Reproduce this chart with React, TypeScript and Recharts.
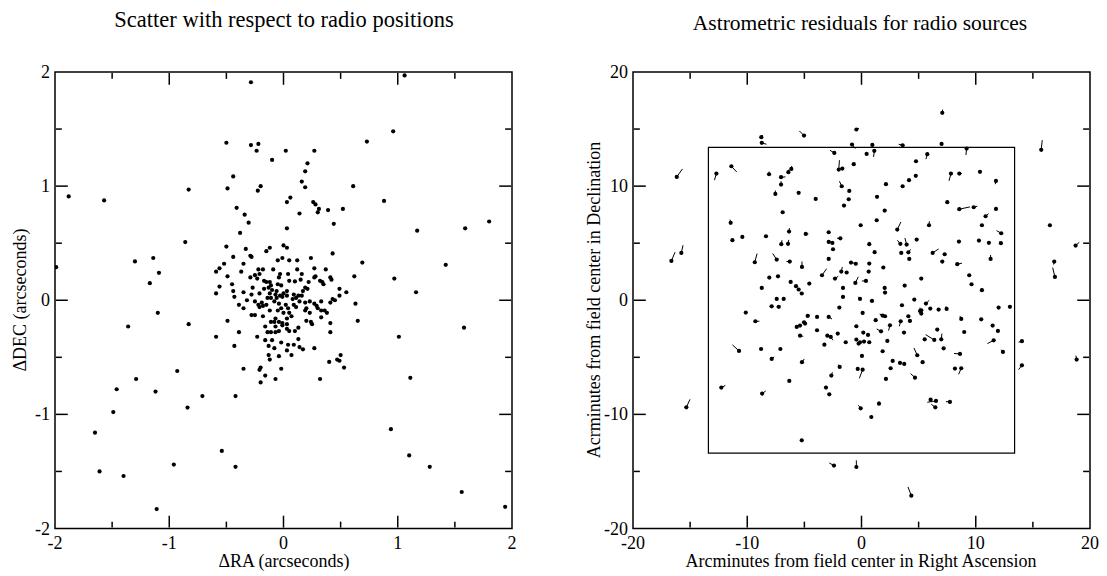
import React from "react";
import {
  ScatterChart,
  Scatter,
  XAxis,
  YAxis,
  ReferenceLine,
  ReferenceArea,
} from "recharts";

const FONT = '"Liberation Serif", "Times New Roman", serif';

// left panel: offsets (ΔRA, ΔDEC) in arcseconds
const radioScatter: [number, number][] = [
  [-0.38, 0.59], [0.03, 0.63], [-0.5, 0.47], [-0.33, 0.45], [-0.12, 0.46], [-0.15, 0.43],
  [0.0, 0.48], [0.03, 0.46], [-0.44, 0.38], [-0.29, 0.39], [-0.28, 0.38], [-0.05, 0.35],
  [-0.01, 0.37], [-0.52, 0.32], [-0.35, 0.32], [-0.56, 0.28], [-0.59, 0.25], [-0.37, 0.25],
  [-0.22, 0.27], [-0.18, 0.27], [-0.21, 0.23], [-0.09, 0.27], [-0.03, 0.23], [-0.04, 0.2],
  [0.04, 0.23], [-0.49, 0.21], [-0.29, 0.2], [-0.25, 0.22], [-0.23, 0.19], [-0.17, 0.17],
  [-0.15, 0.16], [-0.12, 0.16], [-0.05, 0.14], [-0.02, 0.13], [-0.11, 0.13], [0.05, 0.17],
  [-0.45, 0.14], [-0.27, 0.11], [-0.17, 0.1], [-0.13, 0.11], [-0.1, 0.09], [-0.06, 0.08],
  [0.03, 0.08], [-0.56, 0.12], [-0.44, 0.08], [-0.59, 0.06], [-0.35, 0.07], [-0.21, 0.06],
  [-0.12, 0.06], [-0.07, 0.05], [-0.03, 0.04], [0.0, 0.06], [0.03, 0.04], [-0.28, 0.05],
  [-0.14, 0.02], [-0.11, 0.02], [-0.06, 0.02], [-0.01, 0.03], [-0.43, 0.03], [-0.32, 0.0],
  [-0.25, -0.01], [-0.19, -0.02], [-0.22, -0.04], [-0.18, -0.05], [-0.15, -0.04], [-0.08, -0.01],
  [-0.04, -0.03], [0.02, -0.04], [-0.39, -0.04], [-0.35, -0.07], [-0.21, -0.06], [-0.12, -0.09],
  [-0.05, -0.09], [0.0, -0.11], [-0.02, -0.07], [0.04, -0.07], [-0.28, -0.13], [-0.25, -0.13],
  [-0.18, -0.14], [-0.11, -0.19], [-0.08, -0.19], [-0.04, -0.19], [-0.01, -0.2], [0.03, -0.21],
  [-0.07, -0.16], [0.03, -0.16], [-0.49, -0.18], [-0.16, -0.23], [-0.07, -0.23], [-0.14, -0.28],
  [-0.11, -0.28], [-0.07, -0.28], [-0.04, -0.27], [-0.01, -0.22], [0.03, -0.25], [-0.39, -0.28],
  [-0.23, -0.32], [-0.59, -0.32], [-0.16, -0.35], [-0.1, -0.35], [-0.02, -0.37], [-0.43, -0.4],
  [-0.13, -0.4], [-0.08, -0.42], [0.04, -0.39], [0.03, -0.44], [-0.13, -0.48], [-0.04, -0.49],
  [-0.12, -0.52], [-0.35, -0.6], [-0.2, -0.59], [-0.21, -0.61], [-0.02, -0.6], [-0.16, -0.66],
  [-0.07, -0.69], [-0.2, -0.72],
  [0.44, 0.67], [0.05, 0.35], [0.12, 0.35], [0.24, 0.37], [0.43, 0.41], [0.69, 0.33],
  [0.12, 0.27], [0.27, 0.28], [0.37, 0.27], [0.16, 0.23], [0.15, 0.18], [0.28, 0.21],
  [0.27, 0.2], [0.41, 0.2], [0.42, 0.18], [0.62, 0.21], [0.1, 0.165], [0.22, 0.16],
  [0.32, 0.17], [0.34, 0.16], [0.35, 0.14], [0.19, 0.11], [0.17, 0.08], [0.21, 0.1],
  [0.49, 0.1], [0.55, 0.07], [0.49, 0.04], [0.09, 0.05], [0.13, 0.04], [0.16, 0.04],
  [0.08, 0.01], [0.11, 0.02], [0.14, -0.01], [0.19, -0.02], [0.23, -0.01], [0.27, -0.03],
  [0.33, -0.01], [0.41, -0.02], [0.43, 0.01], [0.45, 0.0], [0.63, -0.03], [0.09, -0.04],
  [0.11, -0.06], [0.19, -0.09], [0.2, -0.07], [0.23, -0.11], [0.29, -0.05], [0.3, -0.07],
  [0.33, -0.09], [0.36, -0.09], [0.38, -0.11], [0.33, -0.15], [0.05, -0.11], [0.07, -0.14],
  [0.2, -0.18], [0.25, -0.21], [0.24, -0.19], [0.41, -0.2], [0.65, -0.18], [0.05, -0.27],
  [0.1, -0.27], [0.13, -0.24], [0.41, -0.28], [0.13, -0.34], [0.09, -0.39], [0.14, -0.41],
  [0.17, -0.43], [0.27, -0.42], [0.07, -0.48], [0.4, -0.54], [0.47, -0.52], [0.5, -0.48],
  [0.49, -0.53], [0.53, -0.59], [0.32, -0.69],
  [1.06, 1.97], [0.96, 1.48], [0.73, 1.39], [0.02, 1.31], [0.27, 1.31], [0.21, 1.2],
  [0.19, 1.13], [0.16, 1.04], [0.19, 0.99], [0.61, 1.0], [0.88, 0.87], [0.03, 0.86],
  [0.06, 0.9], [0.14, 0.76], [0.26, 0.86], [0.28, 0.84], [0.31, 0.8], [0.3, 0.77],
  [0.39, 0.79], [0.52, 0.8], [1.17, 0.61], [1.59, 0.63], [1.8, 0.69], [1.42, 0.31],
  [0.97, 0.19], [1.16, 0.07],
  [1.01, -0.32], [1.58, -0.24], [1.11, -0.68], [0.94, -1.13], [1.1, -1.36], [1.28, -1.46],
  [1.56, -1.68], [1.94, -1.81],
  [-1.1, -0.11], [-1.36, -0.23], [-0.83, -0.21], [-0.93, -0.62], [-1.29, -0.69], [-1.46, -0.78],
  [-1.12, -0.8], [-0.71, -0.84], [-0.42, -0.84], [-0.84, -0.94], [-1.49, -0.98], [-1.65, -1.16],
  [-0.54, -1.32], [-0.96, -1.44], [-0.42, -1.46], [-1.61, -1.5], [-1.4, -1.54], [-1.11, -1.83],
  [-1.99, 0.29], [-1.88, 0.91], [-1.57, 0.875], [-1.3, 0.34], [-1.14, 0.37], [-1.09, 0.24],
  [-1.17, 0.15], [-0.83, 0.97], [-0.86, 0.51], [-0.285, 1.91], [-0.5, 1.38], [-0.285, 1.36],
  [-0.22, 1.37], [-0.235, 1.31], [-0.1, 1.23], [-0.44, 1.085], [-0.49, 0.98], [-0.2, 1.0],
  [-0.225, 0.96], [-0.41, 0.81], [-0.34, 0.75], [-0.305, 0.68],
];

// right panel: source position (arcmin) and residual vector (dx, dy, scaled)
const residualVectors: [number, number, number, number][] = [
  [-16.17, 10.81, 0.5, 0.7], [-12.7, 11.1, -0.17, -0.58], [-11.39, 11.74, 0.47, -0.5],
  [-16.64, 3.45, 0.32, 0.76], [-15.77, 4.15, 0.15, 0.67], [-8.77, 14.29, 0.12, 0.18],
  [-8.73, 13.79, 0.41, -0.12], [-5.03, 14.43, -0.41, 0.41], [-0.45, 14.96, 0.23, 0.12],
  [-2.38, 12.91, -0.38, 0.23], [-1.99, 11.45, 0.06, 0.82], [-1.68, 11.54, 0, 0],
  [-0.68, 11.92, 0.12, 0.12], [-1.73, 9.99, -0.2, 0.44], [-1.07, 9.58, 0, 0],
  [-1.53, 8.3, 0, 0], [-1.12, 8.85, 0, 0], [-8.09, 11.04, 0, 0.23],
  [-7.04, 10.78, 0.38, 0.03], [-6.4, 11.22, 0.06, 0.25], [-6.14, 11.51, 0.03, 0.25],
  [-7.04, 10.14, 0, 0.29], [-7.54, 9.32, 0, 0.29], [-5.5, 9.41, 0, 0],
  [-4.01, 8.88, 0, 0], [-6.9, 7.71, 0, 0], [-11.45, 6.78, -0.06, 0.29],
  [-11.3, 5.26, 0, 0], [-10.43, 5.55, 0, 0], [-8.36, 5.61, 0, 0],
  [-7.02, 4.91, 0.06, 0.35], [-6.43, 4.94, 0.06, 0.35], [-6.34, 6.02, 0.03, 0.3],
  [-4.88, 5.81, 0.23, 0], [-2.87, 5.96, 0, 0], [-2.87, 5.11, 0, 0],
  [-2.55, 5.02, -0.25, 0.1], [-2.49, 4.47, 0, 0], [-1.85, 5.43, -0.29, 0],
  [-9.34, 3.33, 0.2, 0.76], [-7.42, 3.56, -0.35, 0.53], [-6.28, 3.39, -0.29, 0],
  [-5.21, 2.92, 0, 0.47], [-3.46, 2.19, 0.41, 0.58], [-2.87, 3.62, 0, 0],
  [-1.77, 2.51, 0.09, 0.41], [-2.32, 1.9, 0.29, 0.2], [-1.3, 2.43, 0, 0],
  [-0.92, 3.3, 0.5, -0.09], [-0.54, 1.52, 0.26, 0.53], [-8.07, 1.99, 0, 0],
  [-7.31, 2.1, 0.12, 0.12], [-8.73, 1.08, 0, 0], [-6.2, 1.61, 0, 0],
  [-5.73, 1.23, 0, 0], [-5.5, 0.94, -0.15, 0.15], [-5.23, 0.59, -0.15, 0.15],
  [-4.57, 1.46, 0, 0], [-7.42, 0.12, 0, 0], [-6.81, 0.12, 0, 0],
  [-1.62, 1.08, 0, 0], [-1.94, -0.64, 0, 0], [-10.13, -1.08, 0, 0],
  [7.07, 16.42, 0.03, 0.29], [-0.83, 13.64, 0.29, -0.35], [0.95, 13.61, 0, 0],
  [3.6, 13.58, -0.35, 0.09], [7.01, 13.7, 0, 0], [15.73, 13.18, 0.09, 0.85],
  [0.45, 12.82, 0, 0], [1.12, 13.09, -0.06, -0.53], [9.2, 13.29, -0.06, -0.56],
  [5.76, 12.8, -0.12, -0.44], [4.77, 12.18, 0, 0], [7.83, 11.1, -0.17, -0.64],
  [8.56, 11.1, 0.23, 0], [10.37, 11.25, 0, 0], [11.77, 10.46, -0.06, -0.29],
  [4.75, 10.9, 0, 0], [4.16, 10.52, 0, 0], [3.6, 9.99, 0, 0],
  [2.14, 10.17, 0, 0], [1.36, 9.06, 0, 0], [2.03, 7.86, 0, 0],
  [7.51, 8.59, 0, 0], [8.56, 7.98, 0.93, 0.2], [9.82, 8.15, 0.32, 0.09],
  [11.77, 8.0, 0.06, 0.18], [10.86, 7.36, 0.26, 0.23], [1.33, 7.01, 0, 0],
  [-0.07, 6.57, 0, 0], [3.13, 6.19, 0.32, 0.67], [5.91, 6.57, 0.03, 0.35],
  [10.54, 6.57, -0.15, 0], [12.23, 5.87, -0.41, 0.23], [16.49, 6.57, 0, 0],
  [0.68, 4.91, 0, 0.2], [3.4, 4.94, -0.26, 0.32], [3.95, 4.88, -0.15, 0.58],
  [4.83, 5.32, 0, 0], [8.53, 5.14, 0, 0], [10.28, 5.23, 0, 0],
  [11.15, 5.03, 0, 0], [12.2, 5.0, -0.15, 0.12], [18.74, 4.79, 0.32, 0.29],
  [1.15, 4.21, 0, 0], [3.48, 4.15, 0, 0], [4.1, 4.2, 0.2, 0.26],
  [4.18, 3.62, 0, 0], [6.23, 4.15, 0.52, 0.35], [7.28, 4.03, 0, 0],
  [7.07, 3.39, 0, 0], [8.38, 3.16, 0.41, 0.09], [11.3, 3.62, 0, 0.35],
  [16.87, 3.39, -0.06, -0.26], [16.93, 2.04, -0.2, 0.82], [-0.5, 3.2, 0, 0],
  [0.68, 3.21, 0, 0], [0.63, 2.51, 0, 0], [1.91, 2.87, 0, 0],
  [0.39, 1.69, -0.35, 0], [5.23, 1.9, 0, 0], [3.78, 1.29, 0, 0],
  [2.03, 1.08, 0, 0], [2.06, 0.67, 0, 0], [9.43, 2.19, 0, 0],
  [9.63, 1.4, 0, 0], [10.54, 0.88, 0, 0.2], [-1.62, 0.29, 0, 0],
  [-0.13, 0.12, -0.15, 0.18], [0.92, -0.06, -0.2, 0], [4.62, 0.06, 0, 0],
  [5.64, -0.29, 0.29, 0.29], [3.54, -0.44, 0, 0], [6.02, -0.73, 0, 0],
  [6.75, -0.82, 0, 0], [7.45, -0.76, -0.06, 0.23], [12.0, -0.64, 0, 0],
  [12.99, -0.58, 0, 0.15], [5.12, -0.94, 0, 0.29], [0.1, -1.11, 0, 0],
  [2.06, -1.4, -0.44, 0.18],
  [-7.86, -0.53, -0.2, 0], [-7.24, -0.58, -0.2, 0], [-9.29, -1.84, 0.35, 0],
  [-5.67, -2.34, 0, 0], [-5.38, -2.22, 0, 0], [-5.03, -1.93, 0, 0],
  [-4.94, -2.04, 0, 0], [-4.71, -1.37, 0.2, 0.06], [-3.89, -1.46, 0, 0],
  [-2.87, -1.46, 0.29, -0.18], [-3.89, -2.63, 0, 0], [-5.38, -3.1, 0.29, -0.06],
  [-2.99, -3.1, 0, 0], [-2.69, -3.21, 0.18, -0.29], [-2.08, -2.92, 0, 0],
  [-1.38, -3.68, 0, 0], [-3.25, -3.89, 0, 0], [-0.45, -2.28, 0, 0],
  [-0.45, -3.45, 0, 0], [-0.25, -3.8, 0, 0], [-10.72, -4.44, -0.58, 0.53],
  [-8.79, -4.27, 0, 0], [-7.1, -4.27, 0, 0], [-7.86, -5.14, 0.23, 0.18],
  [-5.21, -5.43, 0.2, 0.29], [-1.91, -5.84, -0.12, 0.2], [-2.64, -6.6, 0.09, 0.29],
  [-0.33, -6.02, 0, 0], [-6.32, -7.07, 0, 0], [-12.27, -7.65, 0.35, 0.18],
  [-8.7, -8.18, 0.32, 0.23], [-3.11, -7.65, 0, 0.15], [-2.82, -8.24, 0, 0],
  [-15.33, -9.38, 0.32, 0.7], [-5.23, -12.27, 0, 0], [-2.41, -14.49, -0.41, 0.23],
  [-0.45, -14.61, 0, 0.58],
  [0.16, -2.83, 0, 0], [0.57, -3.04, 0, 0], [-0.13, -3.68, 0, 0],
  [0.22, -3.62, 0, 0], [0.68, -3.68, 0, 0], [0.04, -4.88, 0, 0],
  [1.85, -4.47, 0, 0], [2.26, -3.56, 0, 0], [1.24, -1.75, 0, 0],
  [1.71, -2.72, -0.38, 0.2], [1.85, -1.34, -0.26, 0.12], [2.49, -2.19, -0.12, -0.47],
  [3.43, -1.84, -0.12, -0.44], [3.72, -2.83, 0, 0], [4.1, -1.4, 0, 0],
  [4.24, -1.81, 0, 0], [5.23, -0.88, 0, 0], [5.23, -1.17, 0, 0],
  [6.37, -3.48, -0.76, 0.47], [5.53, -3.42, 0, 0], [6.98, -3.42, 0.06, 0.5],
  [6.63, -2.57, 0, 0], [7.19, -4.21, 0, 0], [8.73, -1.64, -0.12, 0.26],
  [8.99, -2.78, 0, 0], [10.48, -1.67, 0, 0], [11.48, -2.22, 0, 0],
  [11.94, -2.69, 0, 0.15], [11.57, -3.51, -0.55, -0.29], [12.38, -4.53, -0.15, 0.2],
  [8.62, -4.7, -0.52, 0.03], [14.04, -3.59, -0.29, -0.09], [14.04, -5.7, -0.29, -0.38],
  [18.83, -5.2, -0.06, 0.35], [4.88, -4.82, -0.29, 0.64], [2.73, -5.32, 0, 0],
  [3.37, -5.49, 0, 0], [3.74, -5.58, 0, 0], [2.55, -5.96, 0, 0],
  [5.35, -5.43, 0, 0], [4.68, -6.78, -0.38, 0.35], [2.14, -6.89, 0, 0],
  [0.1, -6.08, -0.29, -0.76], [8.18, -5.99, 0, 0], [8.73, -5.96, -0.23, -0.53],
  [-0.07, -9.47, -0.2, 0.26], [1.53, -9.06, 0, 0.2], [0.86, -10.23, 0, 0],
  [6.05, -8.71, 0, 0], [6.52, -8.82, -0.76, -0.12], [6.46, -9.38, -0.35, 0.26],
  [7.74, -8.91, -0.35, 0.03], [4.36, -17.12, -0.29, 0.76],
];

const arcsecTicks = [-2, -1.5, -1, -0.5, 0, 0.5, 1, 1.5, 2];
const arcminTicks = [-20, -15, -10, -5, 0, 5, 10, 15, 20];
const fieldBox = 13.4;

// tick mark length as a share of the axis span; ticks start just inside the frame
const MAJOR_TICK = 0.026;
const MINOR_TICK = 0.013;
const EDGE_INSET = 0.002;

const isMajorTick = (v: number, major: number) => Math.abs(v / major - Math.round(v / major)) < 1e-6;

function labelTick(side: "bottom" | "left", major: number) {
  return (props: any) => {
    const { x, y, payload } = props;
    const v = payload.value as number;
    if (!isMajorTick(v, major)) return <g />;
    return side === "bottom" ? (
      <text x={x} y={y + 20} textAnchor="middle" fontSize={18} fontFamily={FONT} fill="#000">
        {String(v)}
      </text>
    ) : (
      <text x={x - 5} y={y + 6} textAnchor="end" fontSize={18} fontFamily={FONT} fill="#000">
        {String(v)}
      </text>
    );
  };
}

const dot = (props: any) => <circle cx={props.cx} cy={props.cy} r={2.1} fill="#000" />;

const DIRS: Record<string, [number, number]> = {
  bottom: [0, 1],
  top: [0, -1],
  left: [1, 0],
  right: [-1, 0],
};

// inward tick segments on all four sides, in data units, kept strictly inside the domain
function tickSegments(ticks: number[], major: number, domain: [number, number]) {
  const [lo, hi] = domain;
  const span = hi - lo;
  const inset = span * EDGE_INSET;
  const segs: { x1: number; y1: number; x2: number; y2: number }[] = [];
  ticks.forEach((v) => {
    if (v === lo || v === hi) return;
    const len = span * (isMajorTick(v, major) ? MAJOR_TICK : MINOR_TICK);
    const anchors: [number, number, string][] = [
      [v, lo + inset, "bottom"], [v, hi - inset, "top"], [lo + inset, v, "left"], [hi - inset, v, "right"],
    ];
    anchors.forEach(([x, y, side]) => {
      const [dx, dy] = DIRS[side];
      segs.push({ x1: x, y1: y, x2: x + dx * len, y2: y + dy * len });
    });
  });
  return segs;
}

function Panel({
  width, margin, ticks, major, domain, children,
}: {
  width: number;
  margin: { top: number; left: number; right: number; bottom: number };
  ticks: number[];
  major: number;
  domain: [number, number];
  children?: React.ReactNode;
}) {
  const [lo, hi] = domain;
  const segs = tickSegments(ticks, major, domain);
  return (
    <ScatterChart width={width} height={576} margin={margin}>
      <XAxis xAxisId="b" type="number" dataKey="x" domain={domain} ticks={ticks} interval={0}
        allowDataOverflow orientation="bottom" height={1} tickSize={0} tickMargin={0}
        axisLine={false} tickLine={false} tick={labelTick("bottom", major)} />
      <YAxis yAxisId="l" type="number" dataKey="y" domain={domain} ticks={ticks} interval={0}
        allowDataOverflow orientation="left" width={1} tickSize={0} tickMargin={0}
        axisLine={false} tickLine={false} tick={labelTick("left", major)} />
      <ReferenceArea xAxisId="b" yAxisId="l" x1={lo} x2={hi} y1={lo} y2={hi}
        fill="none" fillOpacity={0} stroke="#000" strokeWidth={1.5} ifOverflow="visible" />
      {children}
      {segs.map((s, i) => (
        <ReferenceLine key={`t-${i}`} xAxisId="b" yAxisId="l"
          segment={[{ x: s.x1, y: s.y1 }, { x: s.x2, y: s.y2 }]} stroke="#000" strokeWidth={1.5} />
      ))}
    </ScatterChart>
  );
}

export default function App() {
  const scatterData = radioScatter.map(([x, y]) => ({ x, y }));
  const vectorData = residualVectors.map(([x, y]) => ({ x, y }));

  return (
    <div style={{ position: "absolute", left: 0, top: 0, width: 1107, height: 576, background: "#fff" }}>
      <div style={{ position: "absolute", left: 0, top: 0 }}>
        <Panel width={540} margin={{ top: 72, left: 54, right: 28, bottom: 46.5 }}
          ticks={arcsecTicks} major={1} domain={[-2, 2]}>
          <Scatter data={scatterData} xAxisId="b" yAxisId="l" shape={dot} isAnimationActive={false} />
        </Panel>
      </div>
      <div style={{ position: "absolute", left: 560, top: 0 }}>
        <Panel width={547} margin={{ top: 72, left: 72, right: 17, bottom: 46.5 }}
          ticks={arcminTicks} major={10} domain={[-20, 20]}>
          <ReferenceArea xAxisId="b" yAxisId="l" x1={-fieldBox} x2={fieldBox} y1={-fieldBox} y2={fieldBox}
            fill="none" fillOpacity={0} stroke="#000" strokeWidth={1.2} />
          {residualVectors.map(([x, y, dx, dy], i) =>
            dx === 0 && dy === 0 ? null : (
              <ReferenceLine key={`v-${i}`} xAxisId="b" yAxisId="l"
                segment={[{ x, y }, { x: x + dx, y: y + dy }]} stroke="#000" strokeWidth={1} />
            )
          )}
          <Scatter data={vectorData} xAxisId="b" yAxisId="l" shape={dot} isAnimationActive={false} />
        </Panel>
      </div>
      <svg width={1107} height={576} style={{ position: "absolute", left: 0, top: 0, pointerEvents: "none" }}
        fontFamily={FONT} fill="#000">
        <text x={284} y={27} textAnchor="middle" fontSize={22.5}>Scatter with respect to radio positions</text>
        <text x={860} y={30} textAnchor="middle" fontSize={21.5}>Astrometric residuals for radio sources</text>
        <text x={284} y={567} textAnchor="middle" fontSize={18}>ΔRA (arcseconds)</text>
        <text x={861} y={567} textAnchor="middle" fontSize={18}>Arcminutes from field center in Right Ascension</text>
        <text transform="translate(26,300) rotate(-90)" textAnchor="middle" fontSize={18}>ΔDEC (arcseconds)</text>
        <text transform="translate(600,300) rotate(-90)" textAnchor="middle" fontSize={18}>Acrminutes from field center in Declination</text>
      </svg>
    </div>
  );
}
